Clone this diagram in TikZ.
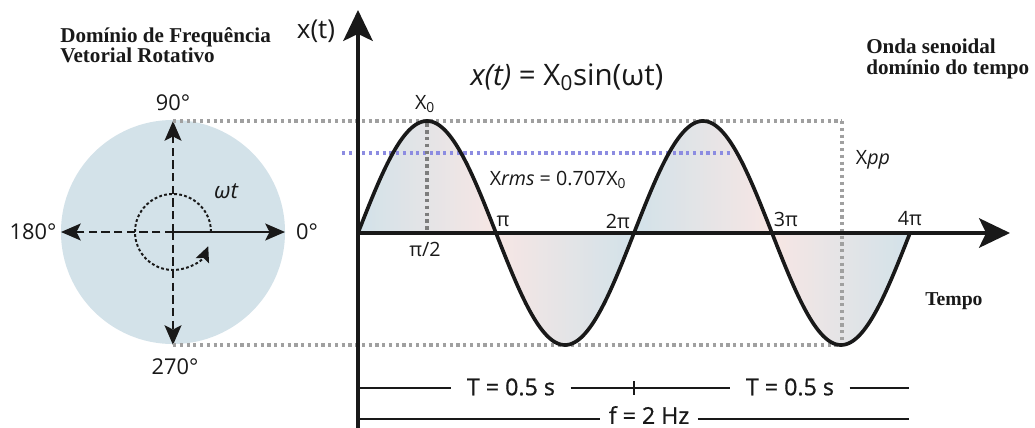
\documentclass[tikz,border=0pt]{standalone}
\usepackage{fontspec}
\setmainfont{Open Sans}
\newfontfamily\serifbold{Liberation Serif}
\newfontfamily\heavysans{Open Sans}[FakeBold=0.8]
\usetikzlibrary{arrows.meta}
\definecolor{discblue}{RGB}{211,226,233}
\definecolor{lobeblue}{RGB}{210,226,233}
\definecolor{lobepink}{RGB}{247,230,228}
\definecolor{dotgray}{RGB}{160,160,160}
\definecolor{dotdark}{RGB}{125,125,125}
\definecolor{rmsblue}{RGB}{140,140,225}
\definecolor{ink}{RGB}{25,25,25}
\begin{document}
\begin{tikzpicture}[x=0.025cm,y=-0.025cm,
  every node/.style={inner sep=0pt, text=ink},
  mainaxis/.style={draw=ink, line width=2.3pt, -{Stealth[length=22pt,width=21pt,inset=5pt]}},
  discaxis/.style={draw=ink, line width=1.5pt, -{Stealth[length=14pt,width=12pt,inset=3pt]}},
  discdash/.style={discaxis, dash pattern=on 6pt off 3pt},
  arcdots/.style={draw=ink, line width=1.4pt, dash pattern=on 2pt off 1.6pt, -{Stealth[length=11pt,width=10pt,inset=2pt]}},
  grayguide/.style={draw=dotgray, line width=2.3pt, dash pattern=on 2.3pt off 2.5pt},
  darkguide/.style={draw=dotdark, line width=2.8pt, dash pattern=on 2.6pt off 2.3pt},
  rmsguide/.style={draw=rmsblue, line width=2.3pt, dash pattern=on 2.3pt off 2.5pt},
  wave/.style={draw=ink, line width=2.6pt, line join=round},
  thinline/.style={draw=ink, line width=1.1pt},
  title/.style={font=\serifbold\bfseries\fontsize{15}{14.3}\selectfont, align=left, anchor=north west},
  lbl/.style={font=\fontsize{14}{16}\selectfont},
  deg/.style={font=\fontsize{15.5}{17}\selectfont},
  period/.style={font=\heavysans\fontsize{16.5}{18}\selectfont},
]
\useasboundingbox (0,0) rectangle (1035,428);
\fill[white] (0,0) rectangle (1035,428);

% rotating phasor disc
\coordinate (C) at (173,232);
\fill[discblue] (C) circle[radius=2.8cm];
\coordinate (Dtop) at (173,121);
\coordinate (Dbot) at (173,345);
\coordinate (Dleft) at (61,232);
\coordinate (Dright) at (285,232);
\draw[discdash] (C) -- (Dtop);
\draw[discdash] (C) -- (Dbot);
\draw[discdash] (C) -- (Dleft);
\draw[discaxis] (C) -- (Dright);
\coordinate (Arc0) at (211,232);
\draw[arcdots] (Arc0) arc[start angle=0, end angle=338, radius=0.95cm];
\node[font=\itshape\fontsize{16}{17}\selectfont] (wt) at (226,191) {ωt};
\node[deg] (d90) at (173,103) {90°};
\node[deg] (d270) at (175,367) {270°};
\node[deg] (d180) at (33,232) {180°};
\node[deg] (d0) at (307,232) {0°};

% lobes
\shade[left color=lobeblue, right color=lobepink] plot[domain=358:496, samples=60] (\x,{233-112*sin((\x-358)/276*360)}) -- cycle;
\shade[left color=lobepink, right color=lobeblue] plot[domain=496:634, samples=60] (\x,{233-112*sin((\x-358)/276*360)}) -- cycle;
\shade[left color=lobeblue, right color=lobepink] plot[domain=634:772, samples=60] (\x,{233-112*sin((\x-358)/276*360)}) -- cycle;
\shade[left color=lobepink, right color=lobeblue] plot[domain=772:910, samples=60] (\x,{233-112*sin((\x-358)/276*360)}) -- cycle;

% guides
\coordinate (PkR) at (842,121);
\coordinate (TrR) at (842,345);
\draw[grayguide] (Dtop) -- (PkR);
\draw[grayguide] (PkR) -- (TrR);
\draw[grayguide] (Dbot) -- (TrR);
\coordinate (RmsL) at (342,153);
\coordinate (RmsR) at (732,153);
\draw[rmsguide] (RmsL) -- (RmsR);
\coordinate (Pk1) at (427,123);
\coordinate (Pk1b) at (427,233);
\draw[darkguide] (Pk1) -- (Pk1b);

% axes
\coordinate (O) at (358,233);
\coordinate (Ybot) at (358,428);
\coordinate (Ytip) at (358,10);
\coordinate (Xtip) at (1010,233);
\draw[draw=ink, line width=2.3pt] (Ybot) -- (O);
\draw[mainaxis] (O) -- (Ytip);
\draw[mainaxis] (O) -- (Xtip);

% wave
\draw[wave] plot[domain=358:910, samples=300] (\x,{233-112*sin((\x-358)/276*360)});

% labels
\node[font=\fontsize{18.5}{20}\selectfont] (xt) at (316,31) {x(t)};
\node[font=\fontsize{21}{23}\selectfont] (eq) at (567,77) {{\itshape x(t)} = X\textsubscript{0}sin(ωt)};
\node[lbl] (X0) at (425,104) {X\textsubscript{0}};
\node[lbl] (rms) at (558,180) {X{\itshape rms} = 0.707X\textsubscript{0}};
\node[lbl] (pi1) at (503,221) {π};
\node[lbl] (pi2) at (618,221) {2π};
\node[lbl] (pi3) at (786,219) {3π};
\node[lbl] (pi4) at (910,219) {4π};
\node[lbl] (pih) at (425,249) {π/2};
\node[lbl] (xpp) at (873,160) {X{\itshape pp}};

\node[title] (ttl1) at (60,27) {Domínio de Frequência\\Vetorial Rotativo};
\node[title] (ttl2) at (866,39) {Onda senoidal\\domínio do tempo};
\node[font=\serifbold\bfseries\fontsize{14}{16}\selectfont, anchor=base west] (tempo) at (925,305) {Tempo};

% period bars
\node[period, inner xsep=11pt] (T1) at (511,387) {T = 0.5 s};
\node[period, inner xsep=11pt] (T2) at (790,387) {T = 0.5 s};
\node[period, inner xsep=6pt] (F) at (649,415) {f = 2 Hz};
\coordinate (L1a) at (358,388);
\coordinate (L1b) at (909,388);
\coordinate (L2a) at (358,419);
\coordinate (L2b) at (909,419);
\coordinate (TkA) at (634,381);
\coordinate (TkB) at (634,395);
\draw[thinline] (L1a) -- (L1a -| T1.west);
\draw[thinline] (L1a -| T1.east) -- (L1a -| T2.west);
\draw[thinline] (L1a -| T2.east) -- (L1b);
\draw[thinline] (TkA) -- (TkB);
\draw[thinline] (L2a) -- (L2a -| F.west);
\draw[thinline] (L2a -| F.east) -- (L2b);
\end{tikzpicture}
\end{document}
